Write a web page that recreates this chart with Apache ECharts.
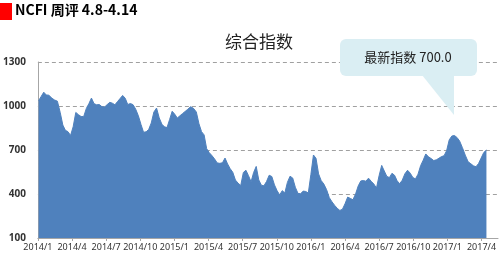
<!DOCTYPE html>
<html>
<head>
<meta charset="utf-8">
<script src="https://cdn.jsdelivr.net/npm/echarts@6/dist/echarts.min.js"></script>
<style>html,body{margin:0;padding:0;background:#fff;}#c{width:500px;height:259px;}</style>
</head>
<body>
<div id="c"></div>
<script>
// Weekly NCFI composite index, first week ending 2014-01-03, last 2017-04-14
const firstWeek = '2014-01-03';
const indexValues = [
1036,1065,1094,1075,1074,1054,1041,1033,955,870,834,825,799,858,956,941,928,929,983,1016,
1054,1016,1008,1010,995,993,1010,1025,1019,1008,1030,1051,1072,1053,1010,1017,1009,978,933,874,
821,824,840,884,959,986,919,876,858,853,908,964,944,918,933,948,962,978,995,984,
959,879,825,803,709,682,662,639,612,609,613,645,605,573,548,495,474,458,547,562,
525,483,547,588,496,460,456,485,528,519,462,422,394,423,407,479,521,509,446,404,
402,420,417,407,533,666,643,537,492,468,430,375,346,322,302,288,296,333,379,370,
361,401,455,489,492,487,508,487,468,441,526,595,557,520,512,541,528,490,470,494,
538,562,542,512,503,535,593,630,673,654,642,628,633,644,655,661,696,769,795,799,
786,762,716,665,620,606,592,586,608,645,683,700
];
const yTicks = [100, 400, 700, 1000, 1300];
const chartTitle = '综合指数';
const pageTitle = 'NCFI 周评 4.8-4.14';
const calloutText = '最新指数 700.0';

function monthIndex(d) {
  const y = d.getUTCFullYear(), m = d.getUTCMonth(), day = d.getUTCDate();
  const dim = new Date(Date.UTC(y, m + 1, 0)).getUTCDate();
  return (y - 2014) * 12 + m + (day - 1) / dim;
}
const start = new Date(firstWeek + 'T00:00:00Z');
const seriesData = indexValues.map((v, i) => {
  const d = new Date(start.getTime() + i * 7 * 86400000);
  return [monthIndex(d), v];
});

const chart = echarts.init(document.getElementById('c'), null, {renderer: 'canvas'});
chart.setOption({
  animation: false,
  backgroundColor: '#fff',
  grid: {left: 37, right: 2, top: 62, bottom: 21, containLabel: false},
  title: {
    text: chartTitle, left: 220, top: 28,
    textStyle: {fontFamily: 'Noto Sans CJK SC', fontSize: 17, fontWeight: 'normal', color: '#222'}
  },
  xAxis: {
    type: 'value', min: 0, max: 40.45, interval: 3,
    axisLine: {show: true, lineStyle: {color: '#A6A6A6', width: 1}},
    axisTick: {show: true, length: 3, lineStyle: {color: '#A6A6A6'}},
    splitLine: {show: false},
    axisLabel: {
      showMaxLabel: false, margin: 5,
      fontFamily: 'Noto Sans', fontSize: 9, color: '#333',
      formatter: v => (2014 + Math.floor(v / 12)) + '/' + (Math.round(v) % 12 + 1)
    }
  },
  yAxis: {
    type: 'value', min: yTicks[0], max: yTicks[yTicks.length - 1], interval: 300,
    axisLine: {show: true, lineStyle: {color: '#A6A6A6', width: 1}},
    axisTick: {show: false},
    splitLine: {show: true, lineStyle: {color: '#A0A0A0', type: [4, 3], width: 1}},
    axisLabel: {margin: 12, fontFamily: 'Noto Sans', fontSize: 10, fontWeight: 'bold', color: '#333',
      formatter: v => String(v)}
  },
  series: [{
    type: 'line', data: seriesData, showSymbol: false, symbol: 'none',
    lineStyle: {color: '#4F81BD', width: 1},
    areaStyle: {color: '#4F81BD', opacity: 1},
    z: 1
  }],
  graphic: [
    {type: 'rect', shape: {x: 0, y: 3, width: 12, height: 17}, style: {fill: '#FF0000'}},
    {type: 'text', x: 15, y: 3, style: {text: pageTitle, fontFamily: 'Noto Sans CJK SC', fontSize: 14, fontWeight: 'bold', fill: '#000'}},
    {type: 'polygon', shape: {points: [[422, 75], [454, 75], [454, 115]]}, style: {fill: '#DAEEF3'}, z: 10},
    {type: 'rect', shape: {x: 340, y: 39, width: 137, height: 37, r: 6}, style: {fill: '#DAEEF3'}, z: 10},
    {type: 'text', x: 408, y: 57, style: {text: calloutText, align: 'center', verticalAlign: 'middle', fontFamily: 'Noto Sans CJK SC', fontSize: 13, fill: '#222'}, z: 11}
  ]
});
</script>
</body>
</html>
